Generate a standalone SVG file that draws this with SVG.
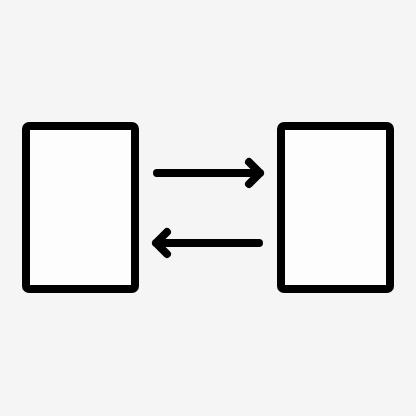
<svg xmlns="http://www.w3.org/2000/svg" width="416" height="416" viewBox="0 0 416 416">
<style>
.box{fill:#fdfdfd;stroke:#000;stroke-width:8}
.arr{fill:none;stroke:#000;stroke-width:8;stroke-linecap:round;stroke-linejoin:round}
</style>
<rect width="416" height="416" fill="#f5f5f5"/>
<g id="left"><rect class="box" x="26" y="126" width="109" height="163" rx="3"/></g>
<g id="right"><rect class="box" x="281" y="126" width="109" height="163" rx="3"/></g>
<g id="connectors">
<path class="arr" d="M157 173H260M249 162L260 173L249 184"/>
<path class="arr" d="M259 243H156M167 232L156 243L167 254"/>
</g>
</svg>
